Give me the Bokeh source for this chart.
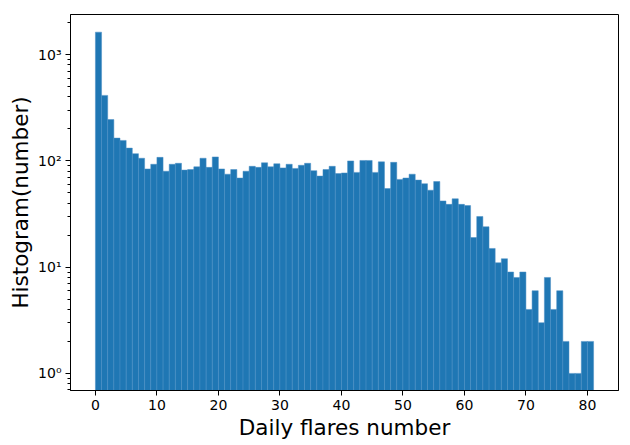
from bokeh.plotting import figure
from bokeh.models import Range1d, FixedTicker, ColumnDataSource
from bokeh.embed import file_html
from bokeh.resources import INLINE

# Histogram counts per daily-flare-number bin (bins of width 1, from 0 to 81)
bin_left = list(range(0, 81))
counts = [1630, 414, 245, 164, 156, 132, 117, 106, 84, 93,
          108, 80, 93, 95, 82, 83, 88, 106, 87, 109,
          84, 75, 83, 69, 80, 89, 87, 96, 88, 94,
          86, 93, 85, 91, 95, 81, 72, 83, 89, 76,
          77, 100, 78, 101, 101, 78, 98, 55, 97, 67,
          69, 75, 66, 61, 53, 64, 42, 39, 44, 39,
          38, 19, 30, 24, 15, 11, 12, 9, 8, 9,
          4, 6, 3, 8, 4, 6, 2, 1, 1, 2,
          2]
x_ticks = [0, 10, 20, 30, 40, 50, 60, 70, 80]
y_ticks = [1, 10, 100, 1000]
y_tick_labels = ["10\u2070", "10\u00b9", "10\u00b2", "10\u00b3"]

src = ColumnDataSource(dict(
    x=[b + 0.5 for b in bin_left],
    top=counts,
    bottom=[0.1] * len(counts),
))

p = figure(width=622, height=445, output_backend="svg", toolbar_location=None,
           y_axis_type="log",
           x_range=Range1d(-4.05, 85.05), y_range=Range1d(0.69, 2390),
           min_border_left=70, min_border_right=4, min_border_top=14, min_border_bottom=55)

p.vbar(x="x", top="top", bottom="bottom", width=1.0, source=src,
       fill_color="#1f77b4", line_color="#4a8fc4", line_width=0.5)

p.xgrid.visible = False
p.ygrid.visible = False
p.outline_line_color = "black"
p.outline_line_width = 1
p.outline_line_alpha = 1

p.xaxis.ticker = FixedTicker(ticks=x_ticks)
minor = []
for d in [0.1, 1, 10, 100, 1000]:
    for m in range(2, 10):
        v = m * d
        if 0.69 <= v <= 2390:
            minor.append(v)
p.yaxis.ticker = FixedTicker(ticks=y_ticks, minor_ticks=minor)
p.yaxis.major_label_overrides = {t: l for t, l in zip(y_ticks, y_tick_labels)}

p.xaxis.axis_label = "Daily flares number"
p.yaxis.axis_label = "Histogram(number)"

for ax in (p.xaxis, p.yaxis):
    ax.axis_label_text_font = "DejaVu Sans"
    ax.axis_label_text_font_size = "21.5px"
    ax.axis_label_text_font_style = "normal"
    ax.axis_label_text_color = "black"
    ax.major_label_text_font = "DejaVu Sans"
    ax.major_label_text_font_size = "14px"
    ax.major_label_text_color = "black"
    ax.axis_line_color = "black"
    ax.major_tick_line_color = "black"
    ax.minor_tick_line_color = "black"
    ax.major_tick_out = 5
    ax.major_tick_in = 0
    ax.minor_tick_out = 3
    ax.minor_tick_in = 0
    ax.axis_label_standoff = 2
    ax.major_label_standoff = 4

open("out.html", "w").write(file_html(p, INLINE))
